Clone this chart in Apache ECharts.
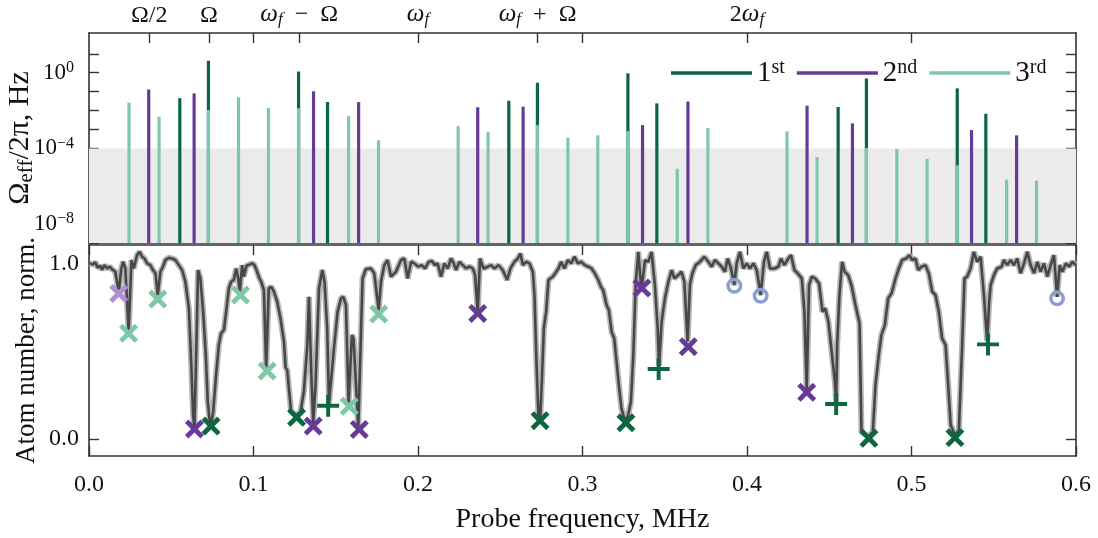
<!DOCTYPE html>
<html><head><meta charset="utf-8">
<script src="https://cdn.jsdelivr.net/npm/echarts@6/dist/echarts.min.js"></script>
<style>html,body{margin:0;padding:0;background:#fff}#c{width:1098px;height:538px}</style>
</head><body><div id="c"></div><script>
// ---------- data ----------
const topTickValues = [0.0366, 0.0729, 0.1, 0.1278, 0.2, 0.2727, 0.3, 0.4, 0.5];
const topLabelValues = [0.0366, 0.0729, 0.1278, 0.2, 0.2727, 0.4];
const topLabelTexts = ['Ω/2', 'Ω', 'ω_f − Ω', 'ω_f', 'ω_f + Ω', '2ω_f'];
const logTickValues = [1e-9, 1e-8, 1e-7, 1e-6, 1e-5, 1e-4, 1e-3, 1e-2, 1e-1, 1, 10];
const logLabelValues = [1e-8, 1e-4, 1];
const bottomYTicks = [0, 1];
const legendNames = ['1st', '2nd', '3rd'];

const order1Freq = [0.0552, 0.0726, 0.1274, 0.1450, 0.2552, 0.2726, 0.3276, 0.3452, 0.4554, 0.4726, 0.5278, 0.5452];
const order1Amp  = [0.045, 4.3, 1.17, 0.028, 0.033, 0.30, 0.93, 0.024, 0.0155, 0.50, 0.15, 0.0068];
const order2Freq = [0.0363, 0.0639, 0.1365, 0.1639, 0.2363, 0.2639, 0.3365, 0.3641, 0.4365, 0.4641, 0.5365, 0.5639];
const order2Amp  = [0.13, 0.081, 0.105, 0.028, 0.015, 0.016, 0.0017, 0.030, 0.018, 0.0021, 0.00093, 0.00049];
const order3Freq = [0.0243, 0.0426, 0.0726, 0.0909, 0.1091, 0.1274, 0.1578, 0.1760, 0.2244, 0.2426, 0.2726, 0.2911,
                    0.3093, 0.3276, 0.3576, 0.3762, 0.4243, 0.4426, 0.4726, 0.4911, 0.5095, 0.5278, 0.5578, 0.5760];
const order3Amp  = [0.026, 0.0048, 0.0107, 0.050, 0.0138, 0.0132, 0.0051, 0.00027, 0.0015, 0.00074, 0.0017, 0.00037,
                    0.00049, 0.00083, 8.5e-6, 0.0012, 0.00079, 3.5e-5, 0.000105, 9.3e-5, 2.75e-5, 1.3e-5, 2.2e-6, 1.95e-6];

const scanFreq = [
0.0004,0.0024,0.0038,0.0053,0.0069,0.0079,0.0093,0.0110,0.0126,0.0140,
0.0160,0.0181,0.0195,0.0207,0.0221,0.0241,0.0258,0.0272,0.0292,0.0308,
0.0323,0.0337,0.0353,0.0373,0.0389,0.0404,0.0418,0.0434,0.0450,0.0464,
0.0485,0.0505,0.0525,0.0546,0.0566,0.0586,0.0607,0.0621,0.0633,0.0641,
0.0653,0.0663,0.0677,0.0694,0.0710,0.0722,0.0734,0.0742,0.0755,0.0771,
0.0789,0.0803,0.0820,0.0836,0.0850,0.0864,0.0880,0.0895,0.0907,0.0917,
0.0931,0.0941,0.0957,0.0978,0.0992,0.1006,0.1022,0.1036,0.1047,0.1063,
0.1077,0.1093,0.1108,0.1124,0.1144,0.1164,0.1185,0.1195,0.1205,0.1215,
0.1229,0.1246,0.1262,0.1286,0.1306,0.1327,0.1337,0.1351,0.1363,0.1377,
0.1398,0.1418,0.1432,0.1448,0.1459,
0.1491,0.1511,0.1532,0.1546,0.1562,0.1578,0.1598,0.1608,0.1637,0.1663,
0.1683,0.1714,0.1734,0.1761,0.1775,0.1795,0.1815,0.1836,0.1866,0.1897,
0.1917,0.1937,0.1958,0.1978,0.2002,0.2022,0.2043,0.2063,0.2083,0.2104,
0.2119,0.2140,0.2160,0.2181,0.2201,0.2217,0.2231,0.2252,0.2272,0.2292,
0.2312,0.2333,0.2347,0.2363,0.2377,0.2398,0.2424,0.2444,0.2465,0.2489,
0.2515,0.2542,0.2562,0.2586,0.2607,0.2623,0.2637,0.2657,0.2678,0.2698,
0.2708,0.2720,0.2732,0.2743,0.2752,0.2765,0.2779,0.2793,0.2819,0.2834,
0.2854,0.2870,0.2890,0.2911,0.2931,0.2951,0.2972,0.2992,
0.3014,0.3035,0.3055,0.3075,0.3096,0.3112,0.3126,0.3146,0.3160,0.3177,
0.3193,0.3207,0.3221,0.3237,0.3251,0.3264,0.3278,0.3294,0.3309,0.3323,
0.3339,0.3355,0.3361,0.3380,0.3400,0.3420,0.3440,0.3457,0.3465,0.3481,
0.3501,0.3522,0.3542,0.3558,0.3582,0.3602,0.3619,0.3639,0.3653,0.3668,
0.3688,0.3714,0.3740,0.3765,0.3785,0.3805,0.3826,0.3846,0.3866,0.3882,
0.3903,0.3923,0.3937,0.3957,0.3978,0.3998,0.4018,0.4039,0.4059,0.4083,
0.4103,0.4120,0.4140,0.4166,0.4191,0.4207,0.4227,0.4251,0.4268,0.4288,
0.4308,0.4333,0.4349,0.4363,0.4377,0.4394,0.4414,0.4438,0.4459,0.4475,
0.4495,
0.4517,0.4534,0.4542,0.4548,0.4562,0.4578,0.4594,0.4615,0.4635,0.4659,
0.4684,0.4696,0.4710,0.4740,0.4765,0.4781,0.4801,0.4817,0.4838,0.4858,
0.4879,0.4903,0.4923,0.4943,0.4967,0.4988,0.5004,0.5024,0.5041,0.5061,
0.5085,0.5105,0.5126,0.5146,0.5166,0.5186,0.5207,0.5223,0.5238,0.5264,
0.5288,0.5308,0.5322,0.5338,0.5359,0.5379,0.5399,0.5420,0.5440,0.5460,
0.5471,0.5481,0.5501,0.5521,0.5548,0.5562,0.5582,0.5603,0.5623,0.5643,
0.5663,0.5684,0.5704,0.5724,0.5745,0.5765,0.5785,0.5805,0.5826,0.5846,
0.5866,0.5885,0.5901,0.5917,0.5938,0.5958,0.5978,0.5999
];
const scanAtoms = [
1.004,0.998,1.010,0.979,0.990,0.966,0.994,0.975,0.985,0.971,
0.956,0.840,0.966,1.013,0.975,0.613,1.023,0.975,1.051,1.070,
1.042,1.032,1.004,0.994,0.966,0.947,0.823,0.956,0.985,1.023,
1.036,1.032,1.023,0.994,0.966,0.899,0.747,0.442,0.137,0.065,
0.537,0.966,0.918,0.727,0.480,0.213,0.099,0.085,0.156,0.347,
0.537,0.604,0.623,0.747,0.861,0.899,0.909,0.975,0.918,0.842,
0.994,0.928,0.990,0.998,1.004,0.994,0.956,0.918,0.899,0.851,
0.400,0.861,0.870,0.842,0.785,0.690,0.556,0.408,0.394,0.290,
0.156,0.147,0.137,0.156,0.270,0.537,0.813,0.385,0.090,0.309,
0.861,0.966,0.899,0.633,0.204,
0.537,0.727,0.804,0.813,0.766,0.200,0.594,0.575,0.065,0.918,
0.971,0.975,0.947,0.737,0.899,0.994,1.023,0.928,0.956,1.023,
1.032,0.918,1.013,1.004,0.985,0.994,0.975,1.010,1.018,0.994,
1.004,0.928,1.004,0.975,1.032,1.004,0.966,1.013,0.994,0.975,
0.985,0.975,0.937,0.727,1.032,0.975,0.985,0.994,0.975,0.994,
0.966,0.909,0.975,1.013,1.032,1.060,0.994,1.013,1.004,0.956,
0.823,0.442,0.137,0.118,0.309,0.633,0.727,0.909,0.928,0.947,
0.975,1.013,0.975,1.023,1.004,1.042,1.004,1.013,
0.994,0.985,0.975,0.947,0.909,0.870,0.851,0.766,0.737,0.613,
0.575,0.442,0.309,0.175,0.127,0.110,0.137,0.213,0.480,0.880,
1.070,0.890,0.870,1.023,1.013,1.070,0.880,0.633,0.420,0.670,
0.804,0.899,0.966,0.918,0.937,0.956,0.899,0.556,0.880,0.947,
0.994,1.013,1.042,1.013,0.985,1.023,1.004,0.985,0.956,1.032,
0.975,0.880,1.004,1.070,0.975,1.004,0.975,1.004,0.966,0.823,
1.013,1.070,0.975,0.975,0.985,1.032,0.994,1.032,1.051,0.966,
0.947,0.918,0.727,0.280,0.880,0.928,0.918,0.890,0.727,0.747,
0.670,
0.480,0.328,0.210,0.537,0.823,1.013,0.956,0.937,0.880,0.766,
0.661,0.042,0.032,0.013,0.042,0.309,0.480,0.594,0.651,0.804,
0.833,0.918,0.975,1.023,1.032,1.051,1.023,1.032,0.966,0.985,
0.994,0.947,0.842,0.823,0.727,0.575,0.537,0.309,0.080,0.023,
0.051,0.537,0.918,0.928,0.975,1.070,1.013,1.042,0.823,0.560,
0.766,0.880,0.937,0.975,0.985,1.023,0.994,1.023,0.994,1.032,
0.947,1.004,1.070,0.994,0.947,1.013,0.956,1.004,0.928,0.994,
1.051,0.813,0.994,0.956,1.004,0.985,1.013,0.994
];

// predicted resonance markers
const crossHalfF = [0.0181];                     const crossHalfN = [0.832];
const cross3F = [0.0241, 0.0418, 0.0921, 0.1083, 0.1582, 0.1761];
const cross3N = [0.604, 0.800, 0.823, 0.389, 0.187, 0.714];
const cross2F = [0.0641, 0.1363, 0.1643, 0.2363, 0.3361, 0.3643, 0.4363];
const cross2N = [0.057, 0.074, 0.055, 0.718, 0.863, 0.528, 0.267];
const cross1F = [0.0742, 0.1262, 0.2742, 0.3264, 0.4741, 0.5264];
const cross1N = [0.074, 0.124, 0.105, 0.093, 0.004, 0.008];
const plus1F = [0.1454, 0.3463, 0.4542, 0.5465];
const plus1N = [0.190, 0.400, 0.200, 0.541];
const circF = [0.3923, 0.4083, 0.5885];
const circN = [0.876, 0.819, 0.804];

// ---------- style ----------
const FONT = 'Liberation Serif';
const C1 = '#0b6641', C2 = '#673a99', C3 = '#7fc8a7', CHALF = '#b08fd4', CCIRC = '#8c9ed2';
const FRAME = '#333';
const PLUS = 'path://M4.1,0H5.9V4.1H10V5.9H5.9V10H4.1V5.9H0V4.1H4.1Z';
const CROSS = 'path://M3.9,0H6.1V3.9H10V6.1H6.1V10H3.9V6.1H0V3.9H3.9Z';
const LOGMIN = 1e-9, LOGMAX = 126;
const OPSP = '\u2002';

const zip = (a, b) => a.map((v, i) => [v, b[i]]);
const richTop = s => s.replace(/ω_f/g, '{it|ω}{sub|f}').replace(/ ([−+]) /g, OPSP + '$1' + OPSP);

function stemSeries(name, fs, as, color) {
  return {
    type: 'custom', name, xAxisIndex: 0, yAxisIndex: 0, z: 3,
    data: zip(fs, as), itemStyle: { color },
    renderItem: (params, api) => {
      const top = api.coord([api.value(0), api.value(1)]);
      const bot = api.coord([api.value(0), LOGMIN]);
      return { type: 'line', shape: { x1: top[0], y1: top[1], x2: bot[0], y2: bot[1] },
               style: { stroke: color, lineWidth: 3.2, lineCap: 'butt' } };
    }
  };
}
function markerSeries(fs, ns, symbol, size, rotate, color) {
  return {
    type: 'scatter', xAxisIndex: 2, yAxisIndex: 2, z: 6, silent: true,
    data: zip(fs, ns), symbol, symbolSize: size, symbolRotate: rotate,
    itemStyle: { color, opacity: 1 }
  };
}

const tickStyle = { show: true, inside: true, length: 10, lineStyle: { color: FRAME, width: 1.4 } };
const lineStyle = { show: true, onZero: false, lineStyle: { color: FRAME, width: 1.6 } };
const labelBase = { color: '#111', fontFamily: FONT, fontSize: 24 };

const option = {
  animation: false,
  backgroundColor: '#fff',
  textStyle: { fontFamily: FONT },
  grid: [
    { left: 89, top: 33, width: 987, height: 210, outerBoundsMode: 'none' },
    { left: 89, top: 245, width: 987, height: 211, outerBoundsMode: 'none' }
  ],
  legend: {
    show: true, left: 671, top: 58, itemWidth: 81, itemHeight: 3.5, itemGap: 12, padding: 0,
    data: legendNames.map((n, i) => ({ name: n, icon: 'rect', itemStyle: { color: [C1, C2, C3][i] } })),
    formatter: n => n.charAt(0) + '{sup|' + n.slice(1) + '}',
    textStyle: { fontFamily: FONT, fontSize: 29, color: '#111',
      rich: { sup: { fontFamily: FONT, fontSize: 20, color: '#111', verticalAlign: 'top', padding: [0, 0, 10, 0] } } }
  },
  xAxis: [
    { gridIndex: 0, type: 'value', min: 0, max: 0.6, position: 'bottom',
      axisLine: lineStyle, splitLine: { show: false },
      axisTick: Object.assign({}, tickStyle, { customValues: topTickValues }),
      axisLabel: { show: false } },
    { gridIndex: 0, type: 'value', min: 0, max: 0.6, position: 'top',
      axisLine: lineStyle, splitLine: { show: false },
      axisTick: Object.assign({}, tickStyle, { customValues: topTickValues }),
      axisLabel: Object.assign({}, labelBase, { fontSize: 24, margin: 5, customValues: topLabelValues,
        formatter: v => {
          let best = 0;
          topLabelValues.forEach((t, i) => { if (Math.abs(t - v) < Math.abs(topLabelValues[best] - v)) best = i; });
          return richTop(topLabelTexts[best]);
        },
        rich: { it: { fontFamily: FONT, fontStyle: 'italic', fontSize: 25, color: '#111' },
                sub: { fontFamily: FONT, fontStyle: 'italic', fontSize: 17, color: '#111', verticalAlign: 'bottom', padding: [10, 0, 0, 0] } } }) },
    { gridIndex: 1, type: 'value', min: 0, max: 0.6, interval: 0.1, position: 'bottom',
      axisLine: lineStyle, splitLine: { show: false }, axisTick: tickStyle,
      axisLabel: Object.assign({}, labelBase, { margin: 17, formatter: v => v.toFixed(1) }),
      name: 'Probe frequency, MHz', nameLocation: 'middle', nameGap: 50, nameMoveOverlap: false,
      nameTextStyle: { fontFamily: FONT, fontSize: 28, color: '#111' } },
    { gridIndex: 1, type: 'value', min: 0, max: 0.6, interval: 0.1, position: 'top',
      axisLine: lineStyle, splitLine: { show: false }, axisTick: tickStyle, axisLabel: { show: false } }
  ],
  yAxis: [
    { gridIndex: 0, type: 'log', logBase: 10, min: LOGMIN, max: LOGMAX, position: 'left',
      axisLine: lineStyle, splitLine: { show: false }, minorTick: { show: false },
      axisTick: Object.assign({}, tickStyle, { customValues: logTickValues }),
      axisLabel: Object.assign({}, labelBase, { fontSize: 23, margin: 15, customValues: logLabelValues,
        formatter: v => '10{sup|' + String(Math.round(Math.log10(v))).replace('-', '−') + '}',
        rich: { sup: { fontFamily: FONT, fontSize: 16, color: '#111', verticalAlign: 'top', padding: [0, 0, 10, 0] } } }),
      name: 'Ω{sub|eff}/2π, Hz', nameLocation: 'middle', nameGap: 52, nameMoveOverlap: false,
      nameTextStyle: { fontFamily: FONT, fontSize: 30, color: '#111',
        rich: { sub: { fontFamily: FONT, fontSize: 21, color: '#111', verticalAlign: 'bottom', padding: [12, 0, 0, 0] } } } },
    { gridIndex: 0, type: 'log', logBase: 10, min: LOGMIN, max: LOGMAX, position: 'right',
      axisLine: lineStyle, splitLine: { show: false },
      axisTick: Object.assign({}, tickStyle, { customValues: logTickValues }), axisLabel: { show: false } },
    { gridIndex: 1, type: 'value', min: -0.097, max: 1.109, position: 'left',
      axisLine: lineStyle, splitLine: { show: false },
      axisTick: Object.assign({}, tickStyle, { customValues: bottomYTicks }),
      axisLabel: Object.assign({}, labelBase, { margin: 10, customValues: bottomYTicks, formatter: v => v.toFixed(1) }),
      name: 'Atom number, norm.', nameLocation: 'middle', nameGap: 49, nameMoveOverlap: false,
      nameTextStyle: { fontFamily: FONT, fontSize: 27, color: '#111' } },
    { gridIndex: 1, type: 'value', min: -0.097, max: 1.109, position: 'right',
      axisLine: lineStyle, splitLine: { show: false },
      axisTick: Object.assign({}, tickStyle, { customValues: bottomYTicks }), axisLabel: { show: false } }
  ],
  series: [
    { type: 'line', xAxisIndex: 0, yAxisIndex: 0, z: 1, silent: true, data: [[0.3, 1e-6]], symbol: 'none',
      lineStyle: { opacity: 0 },
      markArea: { silent: true, itemStyle: { color: '#ebebeb' }, data: [[{ yAxis: LOGMIN }, { yAxis: 1e-4 }]] } },
    stemSeries('1st', order1Freq, order1Amp, C1),
    stemSeries('2nd', order2Freq, order2Amp, C2),
    stemSeries('3rd', order3Freq, order3Amp, C3),
    { type: 'line', xAxisIndex: 2, yAxisIndex: 2, z: 3, silent: true, data: zip(scanFreq, scanAtoms),
      showSymbol: false, symbol: 'none', lineStyle: { color: '#adadad', width: 6, opacity: 0.9 } },
    { type: 'line', xAxisIndex: 2, yAxisIndex: 2, z: 4, silent: true, data: zip(scanFreq, scanAtoms),
      showSymbol: false, symbol: 'none', lineStyle: { color: '#474747', width: 2.6 } },
    markerSeries(crossHalfF, crossHalfN, CROSS, 22, 45, CHALF),
    markerSeries(cross3F, cross3N, CROSS, 22, 45, C3),
    markerSeries(cross2F, cross2N, CROSS, 22, 45, C2),
    markerSeries(cross1F, cross1N, CROSS, 22, 45, C1),
    markerSeries(plus1F, plus1N, PLUS, 22, 0, C1),
    { type: 'scatter', xAxisIndex: 2, yAxisIndex: 2, z: 6, silent: true, data: zip(circF, circN),
      symbol: 'circle', symbolSize: 12.5,
      itemStyle: { color: 'rgba(255,255,255,0)', borderColor: CCIRC, borderWidth: 3.5, opacity: 1 } }
  ]
};
const chart = echarts.init(document.getElementById('c'), null, { renderer: 'canvas' });
chart.setOption(option);
</script></body></html>
